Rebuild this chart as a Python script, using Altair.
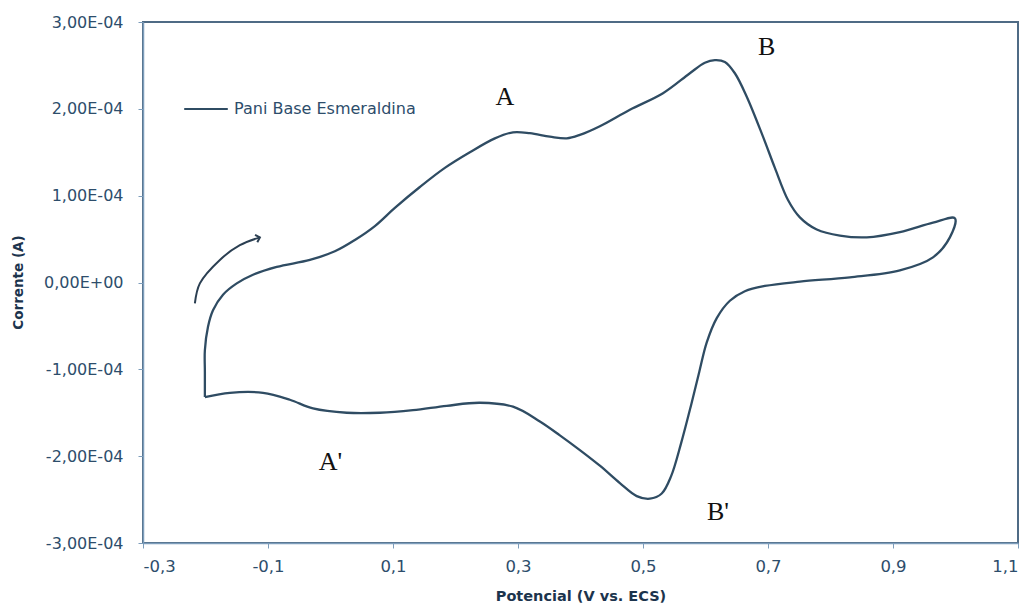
import altair as alt
import pandas as pd

# Cyclic voltammogram of polyaniline (emeraldine base)
# anodic sweep from -0.2 V up to 1.0 V, then cathodic sweep back
potencial = [
    -0.201, -0.201, -0.201, -0.196, -0.188, -0.172, -0.150, -0.124, -0.086, -0.033,
    0.007, 0.039, 0.071, 0.103, 0.143, 0.183, 0.223, 0.263, 0.292, 0.319,
    0.351, 0.378, 0.399, 0.431, 0.479, 0.532, 0.575, 0.599, 0.615, 0.631,
    0.647, 0.666, 0.692, 0.711, 0.732, 0.751, 0.778, 0.815, 0.858, 0.911,
    0.964, 0.999,
    0.991, 0.964, 0.911, 0.831, 0.751, 0.695, 0.663, 0.639, 0.618, 0.602,
    0.590, 0.577, 0.561, 0.545, 0.530, 0.511, 0.490, 0.463, 0.431, 0.399,
    0.367, 0.335, 0.292, 0.239, 0.186, 0.132, 0.079, 0.026, -0.028, -0.065,
    -0.108, -0.161, -0.201,
]
corrente = [
    -1.32e-4, -1.03e-4, -0.78e-4, -0.51e-4, -0.32e-4, -0.14e-4, -0.01e-4, 0.09e-4, 0.18e-4, 0.26e-4,
    0.36e-4, 0.49e-4, 0.65e-4, 0.86e-4, 1.10e-4, 1.32e-4, 1.50e-4, 1.66e-4, 1.73e-4, 1.72e-4,
    1.68e-4, 1.66e-4, 1.70e-4, 1.80e-4, 1.99e-4, 2.18e-4, 2.41e-4, 2.53e-4, 2.56e-4, 2.54e-4,
    2.41e-4, 2.14e-4, 1.68e-4, 1.32e-4, 0.95e-4, 0.75e-4, 0.61e-4, 0.54e-4, 0.52e-4, 0.58e-4,
    0.69e-4, 0.74e-4,
    0.52e-4, 0.29e-4, 0.14e-4, 0.06e-4, 0.01e-4, -0.04e-4, -0.10e-4, -0.21e-4, -0.41e-4, -0.69e-4,
    -1.03e-4, -1.41e-4, -1.85e-4, -2.23e-4, -2.43e-4, -2.49e-4, -2.46e-4, -2.31e-4, -2.11e-4, -1.93e-4,
    -1.76e-4, -1.60e-4, -1.43e-4, -1.385e-4, -1.42e-4, -1.47e-4, -1.50e-4, -1.50e-4, -1.45e-4, -1.35e-4,
    -1.27e-4, -1.27e-4, -1.32e-4,
]
serie = "Pani Base Esmeraldina"

# sweep-direction arrow
seta_v = [-0.217, -0.209, -0.177, -0.145, -0.113]
seta_i = [-0.24e-4, -0.01e-4, 0.26e-4, 0.43e-4, 0.52e-4]

# redox peak labels
picos = ["A", "B", "A'", "B'"]
picos_v = [0.279, 0.698, 0.000, 0.620]
picos_i = [2.14e-4, 2.71e-4, -2.07e-4, -2.64e-4]

x_ticks = [-0.3, -0.1, 0.1, 0.3, 0.5, 0.7, 0.9, 1.1]
y_ticks = [-3e-4, -2e-4, -1e-4, 0, 1e-4, 2e-4, 3e-4]

cv = pd.DataFrame({
    "Potencial": potencial,
    "Corrente": corrente,
    "ordem": list(range(len(potencial))),
    "serie": [serie] * len(potencial),
})
seta = pd.DataFrame({"Potencial": seta_v, "Corrente": seta_i, "ordem": list(range(len(seta_v)))})
rotulos = pd.DataFrame({"Potencial": picos_v, "Corrente": picos_i, "pico": picos})

line_color = "#2f4c63"
axis_color = "#7d9dbb"
label_color = "#2d4d6b"

x_enc = alt.X(
    "Potencial:Q",
    scale=alt.Scale(domain=[-0.3, 1.1], nice=False, zero=False),
    axis=alt.Axis(
        values=x_ticks,
        labelExpr="(datum.value < 0 ? '-' : '') + replace(format(abs(datum.value), '.1f'), '.', ',')",
        title="Potencial (V vs. ECS)",
        titleY=53,
        titleBaseline="middle",
        titleFontSize=14.5,
        labelPadding=10,
        tickSize=5,
    ),
)
y_enc = alt.Y(
    "Corrente:Q",
    scale=alt.Scale(domain=[-3e-4, 3e-4], nice=False, zero=False),
    axis=alt.Axis(
        values=y_ticks,
        labelExpr="datum.value == 0 ? '0,00E+00' : (datum.value < 0 ? '-' : '') + replace(format(abs(datum.value) * 10000, '.2f'), '.', ',') + 'E-04'",
        title="Corrente (A)",
        titleX=-125,
        titleY=260,
        titleAngle=270,
        titleAlign="center",
        titleBaseline="middle",
        titleFontSize=13.5,
        labelFontSize=16,
        labelPadding=15,
        tickSize=5,
    ),
)

curva = alt.Chart(cv).mark_line(strokeWidth=2.3, interpolate="catmull-rom").encode(
    x=x_enc,
    y=y_enc,
    order="ordem:Q",
    color=alt.Color(
        "serie:N",
        scale=alt.Scale(range=[line_color]),
        legend=alt.Legend(
            title=None,
            orient="none",
            legendX=40,
            legendY=64,
            symbolType="stroke",
            symbolSize=1900,
            symbolStrokeWidth=2.2,
            labelFontSize=16,
            labelFont="DejaVu Sans",
            labelColor=label_color,
            labelOffset=5,
            labelLimit=400,
            padding=0,
        ),
    ),
)

seta_linha = alt.Chart(seta).mark_line(
    strokeWidth=2, color="#2b3f52", interpolate="catmull-rom"
).encode(x="Potencial:Q", y="Corrente:Q", order="ordem:Q")

seta_ponta = alt.Chart(seta.tail(1)).mark_point(
    shape="M -1 1 L 0 0 L 1 1", filled=False, size=60, angle=73,
    strokeWidth=2, color="#2b3f52", opacity=1,
).encode(x="Potencial:Q", y="Corrente:Q")

textos = alt.Chart(rotulos).mark_text(
    font="Liberation Serif", fontSize=26, color="#111111", baseline="middle", align="center"
).encode(x="Potencial:Q", y="Corrente:Q", text="pico:N")

chart = (
    alt.layer(curva, seta_linha, seta_ponta, textos)
    .properties(
        width=875,
        height=521,
        padding={"left": 143, "top": 22, "right": 15, "bottom": 61},
        autosize=alt.AutoSizeParams(type="none"),
        background="white",
    )
    .configure_view(stroke="#4f6b85", strokeWidth=2)
    .configure_axis(
        domainColor=axis_color,
        domainWidth=1.5,
        tickColor=axis_color,
        grid=False,
        labelColor=label_color,
        labelFont="DejaVu Sans",
        labelFontSize=16.5,
        titleColor="#1c344d",
        titleFont="DejaVu Sans",
        titleFontWeight="bold",
    )
)

chart.save("out.html", embed_options={"renderer": "svg", "actions": False})
